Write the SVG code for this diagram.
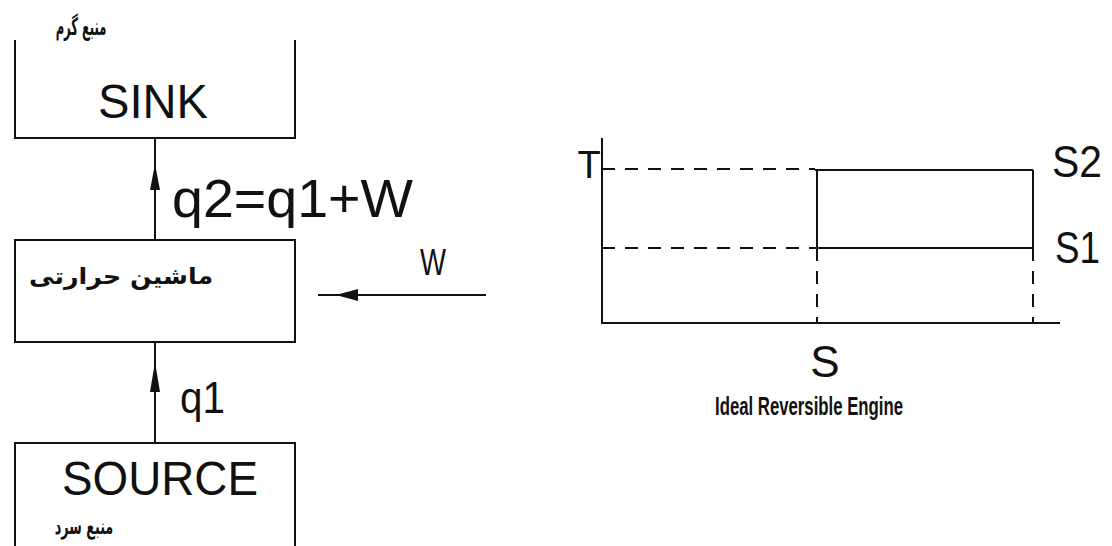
<svg xmlns="http://www.w3.org/2000/svg" width="1112" height="546" viewBox="0 0 1112 546">
<style>
.box{fill:none;stroke:#111;stroke-width:2}
.ln{stroke:#111;stroke-width:2;fill:none}
.dash{stroke:#111;stroke-width:2;fill:none;stroke-dasharray:13 10}
.lbl{font-family:"Liberation Sans",Arial,sans-serif;fill:#111}
.fa{font-family:"DejaVu Sans","Noto Sans",sans-serif;font-weight:bold;fill:#111}
.ah{fill:#111}
</style>
<rect width="1112" height="546" fill="#fff"/>
<g id="sink">
<path class="box" d="M15,40 V138 H295 V40"/>
<text class="fa" transform="translate(81,35) scale(0.48,1)" font-size="24" text-anchor="middle" direction="rtl">منبع گرم</text>
<text class="lbl" x="153" y="118" font-size="48" text-anchor="middle" textLength="110" lengthAdjust="spacingAndGlyphs">SINK</text>
</g>
<g id="engine">
<rect class="box" x="15" y="240" width="280" height="102"/>
<text class="fa" transform="translate(121,284) scale(1.1,1)" font-size="23" text-anchor="middle" direction="rtl">ماشین حرارتی</text>
</g>
<g id="source">
<path class="box" d="M15,546 V443 H295 V546"/>
<text class="lbl" x="160" y="495" font-size="48" text-anchor="middle" textLength="196" lengthAdjust="spacingAndGlyphs">SOURCE</text>
<text class="fa" transform="translate(84,534) scale(0.58,1)" font-size="22" text-anchor="middle" direction="rtl">منبع سرد</text>
</g>
<g id="connectors">
<line class="ln" x1="155" y1="138" x2="155" y2="240"/>
<polygon class="ah" points="155,164 150,190 160,190"/>
<line class="ln" x1="155" y1="342" x2="155" y2="443"/>
<polygon class="ah" points="155,362 150,392 160,392"/>
<line class="ln" x1="318" y1="295" x2="486" y2="295"/>
<polygon class="ah" points="336,295 358,289 358,301"/>
</g>
<g id="labels">
<text class="lbl" x="172" y="217" font-size="54" textLength="241" lengthAdjust="spacingAndGlyphs">q2=q1+W</text>
<text class="lbl" x="180" y="413" font-size="44" textLength="45" lengthAdjust="spacingAndGlyphs">q1</text>
<text class="lbl" x="420" y="275" font-size="36" textLength="26" lengthAdjust="spacingAndGlyphs">W</text>
</g>
<g id="chart">
<line class="ln" x1="602" y1="138" x2="602" y2="324"/>
<line class="ln" x1="601" y1="323" x2="1060" y2="323"/>
<line class="dash" x1="602" y1="169" x2="815" y2="169"/>
<line class="ln" x1="815" y1="170" x2="1033" y2="170"/>
<line class="ln" x1="817" y1="170" x2="817" y2="248"/>
<line class="ln" x1="1033" y1="170" x2="1033" y2="248"/>
<line class="dash" x1="602" y1="248" x2="817" y2="248"/>
<line class="ln" x1="817" y1="248" x2="1033" y2="248"/>
<line class="dash" x1="817" y1="248" x2="817" y2="323"/>
<line class="dash" x1="1033" y1="248" x2="1033" y2="323"/>
<text class="lbl" x="589" y="178" font-size="38" text-anchor="middle">T</text>
<text class="lbl" x="1052" y="177" font-size="44" textLength="50" lengthAdjust="spacingAndGlyphs">S2</text>
<text class="lbl" x="1055" y="263" font-size="44" textLength="45" lengthAdjust="spacingAndGlyphs">S1</text>
<text class="lbl" x="825" y="377" font-size="44" text-anchor="middle">S</text>
<text class="lbl" x="715" y="415" font-size="26" font-weight="bold" fill="#444" textLength="188" lengthAdjust="spacingAndGlyphs">Ideal Reversible Engine</text>
</g>
</svg>
